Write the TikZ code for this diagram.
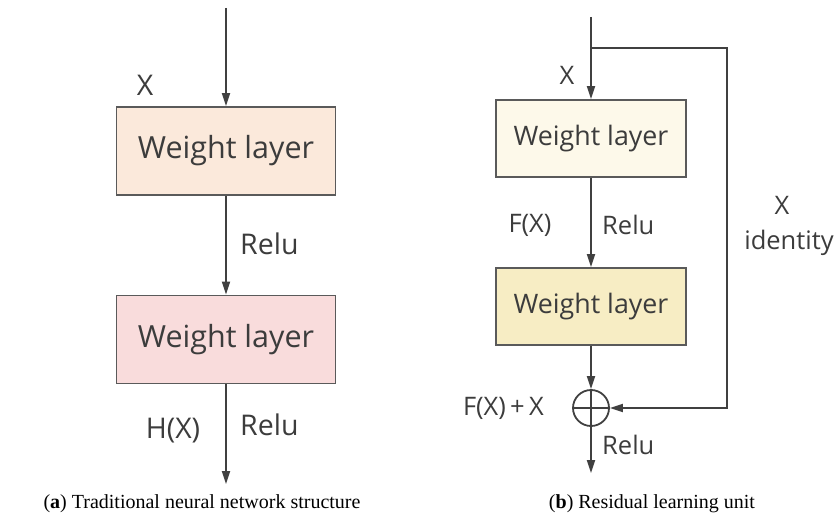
\documentclass[tikz,border=0pt]{standalone}
\usepackage{fontspec}
\setsansfont{Open Sans}
\newfontfamily\captfont{Liberation Serif}
\usetikzlibrary{arrows.meta,positioning}
\definecolor{linec}{HTML}{404040}
\definecolor{boxline}{HTML}{5A5A5A}
\definecolor{txt}{HTML}{3C3C3C}
\definecolor{fillA}{HTML}{FBE9DB}
\definecolor{fillB}{HTML}{F9DCDC}
\definecolor{fillC}{HTML}{FDF9EA}
\definecolor{fillD}{HTML}{F7EDC4}
\tikzset{
  arr/.style={draw=linec, line width=1.8pt, -{Triangle[length=13pt,width=8pt]}},
  boxL/.style={draw=boxline, line width=1.9pt, minimum width=219pt, minimum height=88pt, inner sep=0pt, text=txt, font=\sffamily\fontsize{30.5}{36}\selectfont},
  boxR/.style={draw=boxline, line width=1.9pt, minimum width=190pt, minimum height=77pt, inner sep=0pt, text=txt, font=\sffamily\fontsize{26.8}{32}\selectfont},
  labL/.style={text=txt, inner sep=0pt, font=\sffamily\fontsize{28.5}{33}\selectfont},
  labR/.style={text=txt, inner sep=0pt, font=\sffamily\fontsize{25.5}{30}\selectfont},
  capt/.style={text=black, inner sep=0pt, font=\captfont\fontsize{20}{24}\selectfont},
}
\begin{document}
\begin{tikzpicture}[x=1pt,y=-1pt]
\useasboundingbox (0,0) rectangle (835,524);
% left
\coordinate (ltop) at (226,8);
\node[boxL, fill=fillA] (la) at (226,151) {Weight layer};
\node[boxL, fill=fillB] (lb) at (226,339.5) {Weight layer};
\coordinate (lend) at (226,484);
\draw[arr] (ltop) -- (la.north);
\draw[arr] (la.south) -- (lb.north);
\draw[arr] (lb.south) -- (lend);
\node[labL] (lx) at (145,85) {X};
\node[labL, anchor=west] (lr1) at (240,244) {Relu};
\node[labL] (lh) at (173,431) {H(X)};
\node[labL, anchor=west] (lr2) at (240,425) {Relu};
% right
\coordinate (rtop) at (591,17);
\coordinate (rbr) at (591,48);
\node[boxR, fill=fillC] (ra) at (591,138.5) {Weight layer};
\node[boxR, fill=fillD] (rb) at (591,306.5) {Weight layer};
\node[draw=linec, line width=1.8pt, circle, minimum size=36pt, inner sep=0pt] (sum) at (591,408) {};
\draw[line width=1.8pt, draw=linec] (sum.north) -- (sum.south) (sum.west) -- (sum.east);
\coordinate (rc) at (727,408);
\coordinate (rend) at (591,473);
\draw[arr] (rtop) -- (ra.north);
\draw[arr] (ra.south) -- (rb.north);
\draw[arr] (rb.south) -- (sum.north);
\draw[arr] (rbr) -| (rc) -- (sum.east);
\draw[arr] (sum.south) -- (rend);
\node[labR] (rx) at (567,75) {X};
\node[labR] (rf) at (530,225) {F(X)};
\node[labR, anchor=west] (rr1) at (602,225) {Relu};
\node[labR] (rx2) at (782,205) {X};
\node[labR] (rid) at (789,243) {identity};
\node[labR, anchor=east] (rfx) at (544,408) {F(X)\,+\,X};
\node[labR, anchor=west] (rr2) at (602,445) {Relu};
% captions
\node[capt] (ca) at (202,504) {(\textbf{a}) Traditional neural network structure};
\node[capt] (cb) at (652,504) {(\textbf{b}) Residual learning unit};
\end{tikzpicture}
\end{document}
